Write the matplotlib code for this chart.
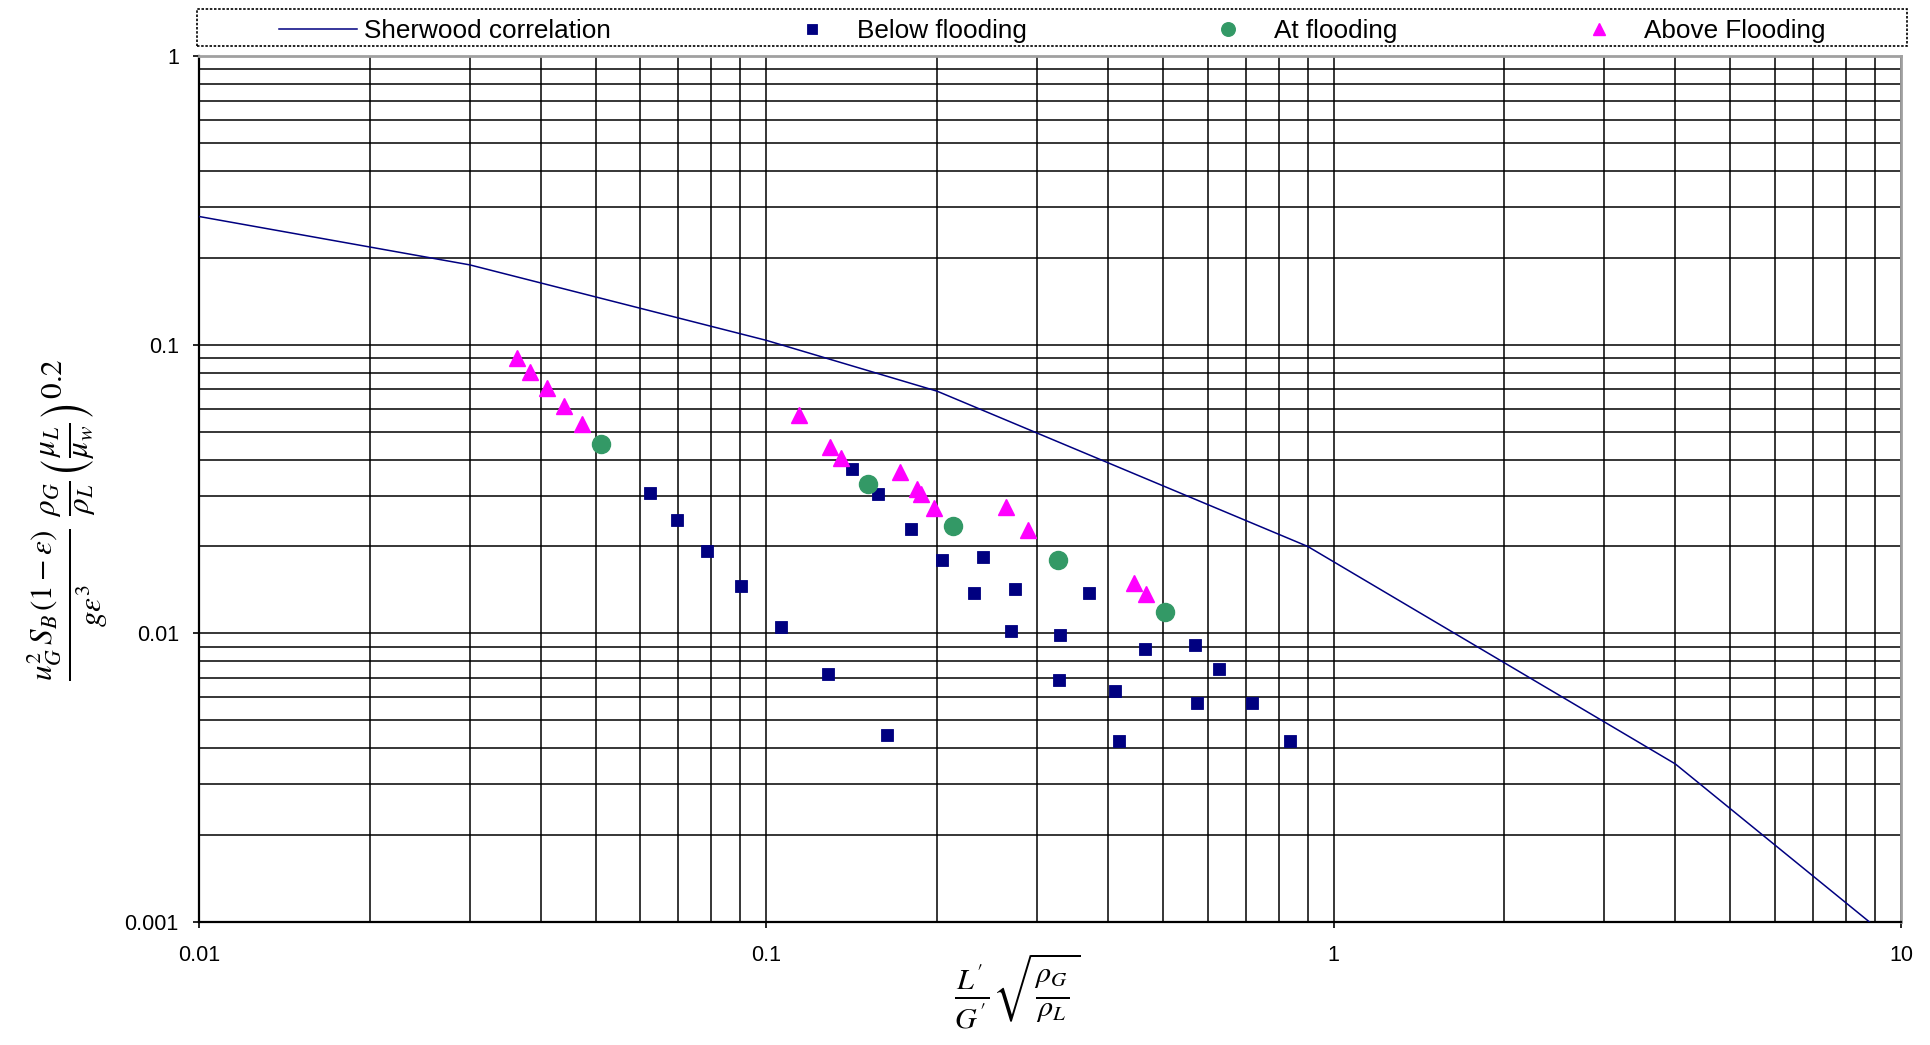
import matplotlib
matplotlib.use('Agg')
import matplotlib.pyplot as plt
from matplotlib.patches import Rectangle
from matplotlib.ticker import FixedLocator, NullFormatter

plt.rcParams['font.family'] = ['Liberation Sans', 'DejaVu Sans']
plt.rcParams['mathtext.fontset'] = 'stix'

sherwood_x = [0.01, 0.03, 0.1, 0.2, 0.9, 4.0, 8.8]
sherwood_y = [0.278, 0.189, 0.1035, 0.069, 0.0200, 0.00353, 0.00100]

# experimental points
below_x = [0.0624, 0.0697, 0.0787, 0.0903, 0.1063, 0.1285, 0.1633,
           0.1414, 0.1575, 0.180, 0.2042, 0.2413, 0.2323, 0.2748, 0.270,
           0.3298, 0.3281, 0.371, 0.4123, 0.419, 0.4656, 0.5705, 0.5751,
           0.6287, 0.7181, 0.8387]
below_y = [0.0307, 0.02475, 0.01933, 0.01462, 0.01054, 0.00721, 0.00446,
           0.0371, 0.0303, 0.02305, 0.0179, 0.01843, 0.01383, 0.01428, 0.01021,
           0.00989, 0.00691, 0.01383, 0.00633, 0.00425, 0.00885, 0.00913, 0.00575,
           0.00754, 0.00575, 0.00425]

at_x = [0.0511, 0.1512, 0.2136, 0.3271, 0.5049]
at_y = [0.0454, 0.0328, 0.0236, 0.0179, 0.01183]

above_x = [0.0363, 0.0383, 0.0411, 0.0440, 0.0474, 0.114, 0.1297, 0.1354,
           0.172, 0.1845, 0.1871, 0.1978, 0.2641, 0.2892, 0.4453, 0.4675]
above_y = [0.0901, 0.0806, 0.0708, 0.0613, 0.0532, 0.0571, 0.0443, 0.0406,
           0.0363, 0.03155, 0.0304, 0.0271, 0.0274, 0.0228, 0.01498, 0.01369]

x_ticks = [0.01, 0.1, 1, 10]
x_labels = ['0.01', '0.1', '1', '10']
y_ticks = [0.001, 0.01, 0.1, 1]
y_labels = ['0.001', '0.01', '0.1', '1']

W, H = 1930, 1045
fig = plt.figure(figsize=(W / 100, H / 100), dpi=100)
ax = fig.add_axes([199 / W, 1 - 922 / H, (1901 - 199) / W, (922 - 56) / H])

ax.set_xscale('log')
ax.set_yscale('log')
ax.set_xlim(0.01, 10)
ax.set_ylim(0.001, 1)

ax.plot(sherwood_x, sherwood_y, color='#000080', lw=1.1, label='Sherwood correlation', zorder=3)
ax.plot(below_x, below_y, 's', color='#000080', ms=9, mec='#000080', mew=0.6,
        label='Below flooding', zorder=4)
ax.plot(at_x, at_y, 'o', color='#339966', ms=13, mec='#339966', label='At flooding', zorder=4)
ax.plot(above_x, above_y, '^', color='#FF00FF', ms=11, mec='#FF00FF', label='Above Flooding', zorder=4)

# grid on every decade subdivision
minors = []
for d in [0.01, 0.1, 1]:
    minors += [d * k for k in range(2, 10)]
ax.xaxis.set_minor_locator(FixedLocator(minors))
ymin = []
for d in [0.001, 0.01, 0.1]:
    ymin += [d * k for k in range(2, 10)]
ax.yaxis.set_minor_locator(FixedLocator(ymin))
ax.xaxis.set_minor_formatter(NullFormatter())
ax.yaxis.set_minor_formatter(NullFormatter())
ax.set_xticks(x_ticks, x_labels)
ax.set_yticks(y_ticks, y_labels)
ax.grid(True, which='both', color='black', lw=1.1)
ax.set_axisbelow(True)
ax.tick_params(which='minor', length=0)
ax.tick_params(which='major', length=4.5, width=1.2, labelsize=15.5, direction='out')
ax.tick_params(axis='x', pad=12)
ax.tick_params(axis='y', pad=10)

for s in ['left', 'bottom']:
    ax.spines[s].set_linewidth(1.6)
    ax.spines[s].set_color('black')
for s in ['top', 'right']:
    ax.spines[s].set_linewidth(2)
    ax.spines[s].set_color('#a0a0a0')

# legend across the top with a dotted frame
leg = fig.legend(loc='center left', bbox_to_anchor=(279 / W, 1 - 31 / H), ncol=4,
                 frameon=False, fontsize=18.8, handlelength=3.0, handletextpad=0.25,
                 columnspacing=6.2, borderpad=0, borderaxespad=0, markerscale=0.75)
fig.patches.append(Rectangle((197 / W, 1 - 46 / H), (1907 - 197) / W, 37 / H,
                             transform=fig.transFigure, fill=False, ec='black',
                             lw=1.2, ls=(0, (1.5, 1))))

fig.text(1017 / W, 1 - 992 / H, r"$\frac{L\,'}{G\,'}\sqrt{\frac{\rho_G}{\rho_L}}$",
         ha='center', va='center', fontsize=31)
fig.text(68 / W, 1 - 520 / H,
         r"$\frac{u_G^{2}\,S_B\,(1-\varepsilon)}{g\varepsilon^{3}}\;\frac{\rho_G}{\rho_L}\left(\frac{\mu_L}{\mu_w}\right)^{0.2}$",
         ha='center', va='center', rotation=90, fontsize=32)

fig.savefig('out.png', dpi=100)
